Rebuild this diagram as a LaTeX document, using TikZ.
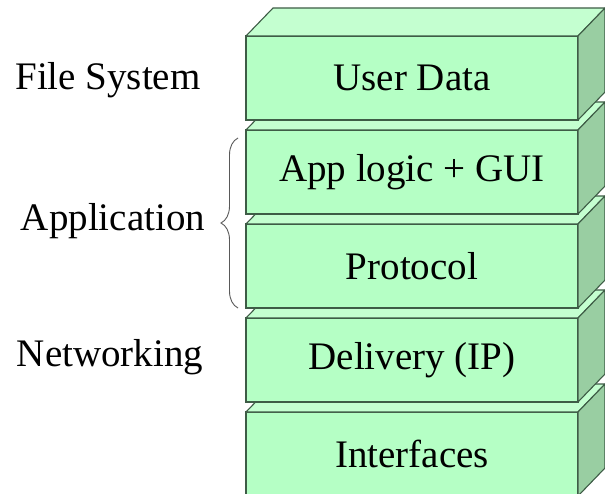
\documentclass[tikz,border=0pt]{standalone}
\usepackage{fontspec}
\setmainfont{Liberation Serif}
\usetikzlibrary{positioning, calc, decorations.pathreplacing}
\definecolor{frontgreen}{RGB}{181,255,197}
\definecolor{topgreen}{RGB}{196,255,208}
\definecolor{sidegreen}{RGB}{153,206,162}
\definecolor{edgegreen}{RGB}{62,92,70}
\tikzset{%
	layer/.style={draw=edgegreen, line width=1.1pt, fill=frontgreen, rectangle,%
		minimum width=332pt, minimum height=84pt, inner sep=0pt, outer sep=0pt,%
		font=\fontsize{39}{42}\selectfont},
	topface/.style={draw=edgegreen, line width=1.1pt, fill=topgreen, line join=round},
	sideface/.style={draw=edgegreen, line width=1.1pt, fill=sidegreen, line join=round},
	sidelabel/.style={font=\fontsize{39}{42}\selectfont, inner sep=0pt},
	grouping/.style={decorate, decoration={brace, amplitude=17pt}, line width=0.9pt, draw=black!65}
}
\newcommand{\slabfaces}[1]{%
	\draw[topface] (#1.north west) -- ++(27,-28) -- ++(332,0) -- (#1.north east) -- cycle;
	\draw[sideface] (#1.north east) -- ++(27,-28) -- ++(0,84) -- (#1.south east) -- cycle;
}

\begin{document}
\begin{tikzpicture}[x=1pt, y=-1pt]
	\useasboundingbox (0,0) rectangle (605,494);

	\node[layer] (intf) at (412,454) {Interfaces};
	\slabfaces{intf}
	\node[layer, above=10pt of intf] (deliv) {Delivery (IP)};
	\slabfaces{deliv}
	\node[layer, above=10pt of deliv] (proto) {Protocol};
	\slabfaces{proto}
	\node[layer, above=10pt of proto] (app) {App logic + GUI};
	\slabfaces{app}
	\node[layer, above=10pt of app] (udata) {User Data};
	\slabfaces{udata}

	\node[sidelabel] (fs) at (108,80) {File System};
	\node[sidelabel] (appl) at (113,221) {Application};
	\node[sidelabel] (net) at (110,357) {Networking};

	\coordinate (bracetop) at (238,138);
	\coordinate (bracebot) at (238,308);
	\draw[grouping] (bracebot) -- (bracetop);
\end{tikzpicture}
\end{document}
